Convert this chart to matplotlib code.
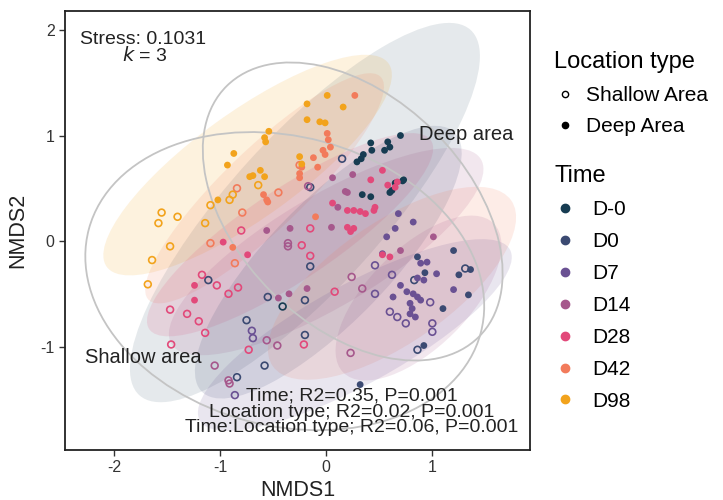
import matplotlib
matplotlib.use("Agg")
import matplotlib.pyplot as plt
from matplotlib.patches import Ellipse
from matplotlib.lines import Line2D

plt.rcParams['font.family'] = ['Liberation Sans', 'DejaVu Sans']
plt.rcParams['axes.unicode_minus'] = False

# Time groups and colours
times = ['D-0', 'D0', 'D7', 'D14', 'D28', 'D42', 'D98']
colors = ['#173c52', '#3b4a72', '#6a5193', '#a6588c', '#e2497a', '#f27b5b', '#f2a31c']

# NMDS scores, per time group (deep = filled, shallow = open)
deep = {
    'D-0': [(0.70, 1.00), (0.58, 0.94), (0.55, 0.86), (0.60, 0.89), (0.42, 0.93), (0.43, 0.86),
            (0.35, 0.82), (0.29, 0.75), (0.33, 0.78), (0.73, 0.58), (0.65, 0.55), (0.62, 0.48),
            (0.34, 0.44), (0.42, 0.42), (0.72, 0.57), (0.60, 0.46)],
    'D0': [(0.92, -0.99), (0.32, -1.36), (1.20, -0.09), (1.25, -0.32), (1.36, -0.27),
           (1.34, -0.51), (1.10, -0.64), (0.86, -0.15), (0.93, -0.30)],
    'D7': [(0.68, 0.26), (0.65, 0.12), (0.57, 0.04), (0.82, 0.18), (0.89, -0.21), (0.95, -0.20),
           (1.04, -0.31), (0.86, -0.35), (0.92, -0.37), (0.70, -0.42), (0.76, -0.48),
           (0.82, -0.50), (0.86, -0.53), (0.89, -0.56), (0.79, -0.59), (0.81, -0.64),
           (0.79, -0.69), (0.84, -0.72), (1.20, -0.46), (0.63, -0.53), (0.53, -0.12)],
    'D14': [(0.06, 0.60), (0.25, 0.63), (0.20, 0.46), (0.11, 0.32), (0.05, 0.13), (-0.34, 0.12),
            (-0.56, 0.10), (-0.18, -0.45), (-0.35, -0.50), (-0.45, -0.54), (1.01, 0.04),
            (0.70, -0.09), (0.18, 0.47)],
    'D28': [(0.20, 0.29), (0.26, 0.29), (0.32, 0.28), (0.37, 0.26), (0.45, 0.29), (0.46, 0.32),
            (0.26, 0.12), (0.23, 0.09), (0.20, 0.13), (0.53, 0.67), (0.42, 0.58), (0.58, 0.53),
            (0.67, 0.56), (0.65, 0.51), (0.06, 0.36), (0.53, -0.13), (0.60, -0.15),
            (-0.74, -0.13), (-1.24, -0.42), (-1.24, -0.56), (-0.97, -0.01)],
    'D42': [(0.27, 1.38), (0.01, 1.02), (0.02, 0.96), (0.04, 0.89), (-0.03, 0.86), (-0.01, 0.82),
            (-0.12, 0.79), (-0.23, 0.70), (-0.08, 0.70), (-0.25, 0.64), (-0.59, 0.44),
            (-0.56, 0.39), (-0.55, 0.37), (-0.25, 0.60), (-0.10, 0.23), (-0.88, -0.06)],
    'D98': [(0.01, 1.38), (-0.18, 1.30), (-0.18, 1.15), (-0.06, 1.13), (-0.01, 1.12),
            (0.16, 1.27), (-0.54, 1.04), (-0.58, 0.98), (-0.57, 0.94), (-0.87, 0.83),
            (-0.93, 0.72), (-0.25, 0.80), (-0.23, 0.73), (-0.72, 0.61), (-0.69, 0.62),
            (-0.62, 0.67), (-0.58, 0.61), (-1.02, 0.39)],
}
shallow = {
    'D-0': [(-0.41, -0.62)],
    'D0': [(-0.15, 0.51), (0.15, 0.78), (-1.11, -0.37), (-0.75, -0.75), (-0.55, -0.53),
           (-0.20, -0.56), (-0.20, -0.89), (-0.15, -0.24), (-0.58, -1.18), (-0.84, -1.29),
           (0.86, -1.03), (1.31, -0.26), (0.83, -0.37)],
    'D7': [(-0.86, -1.46), (-0.70, -0.85), (-0.69, -0.92), (0.62, -0.32), (0.46, -0.23),
           (0.46, -0.50), (0.60, -0.67), (0.67, -0.72), (0.75, -0.78), (0.98, -0.58),
           (1.00, -0.78), (1.00, -0.86)],
    'D14': [(-0.36, -0.02), (-0.36, -0.05), (-0.46, -0.99), (-0.56, -0.94), (-1.05, -1.18),
            (-0.91, -1.35), (-0.92, -1.32), (0.23, -1.06), (0.24, -0.34), (0.34, -0.45),
            (-0.17, 0.52)],
    'D28': [(-1.46, -0.98), (-1.47, -0.65), (-1.31, -0.69), (-1.20, -0.76), (-1.14, -0.87),
            (-1.17, -0.32), (-0.92, -0.50), (-0.83, -0.44), (-0.73, -1.03), (-0.21, -0.98),
            (0.08, -0.48), (-0.15, 0.12), (-0.15, -0.14), (-0.23, -0.04), (-0.80, 0.10),
            (-1.03, -0.42)],
    'D42': [(-0.79, 0.27), (-0.84, 0.50), (-0.45, 0.46), (-1.09, -0.02), (-0.86, -0.21),
            (-0.25, 0.72)],
    'D98': [(-1.55, 0.27), (-1.58, 0.17), (-1.40, 0.23), (-1.47, -0.05), (-1.64, -0.18),
            (-1.68, -0.41), (-1.14, 0.17), (-1.09, 0.34), (-0.64, 0.53), (-0.88, 0.44),
            (-0.91, 0.39)],
}

# group ellipses (time): centre, semi axes, angle
ell_time = ['D-0', 'D98', 'D42', 'D28', 'D14', 'D0', 'D42', 'D14', 'D7']
ell_x = [-0.20, -0.74, -0.58, -0.34, 0.00, 0.02, 0.62, 0.87, 0.27]
ell_y = [0.27, 0.72, 0.50, 0.06, -0.10, -0.20, -0.40, -0.54, -0.89]
ell_a = [2.33, 1.64, 1.52, 1.60, 1.70, 1.71, 1.37, 1.00, 1.67]
ell_b = [0.72, 0.50, 0.38, 0.43, 0.52, 0.57, 0.57, 0.47, 0.47]
ell_ang = [48, 36, 44, 34, 31, 46, 35, 45, 29]

# location ellipses (grey outlines)
loc_x = [-0.39, 0.25]
loc_y = [-0.38, 0.28]
loc_a = [1.91, 1.68]
loc_b = [1.37, 1.08]
loc_ang = [-15, -45]

fig = plt.figure(figsize=(7.23, 5.0), dpi=100)
ax = fig.add_axes([65/723, 50/500, 465/723, 439/500])

for t, x, y, a, b, ang in zip(ell_time, ell_x, ell_y, ell_a, ell_b, ell_ang):
    c = colors[times.index(t)]
    al = 0.11 if t == 'D-0' else 0.14
    ax.add_patch(Ellipse((x, y), 2*a, 2*b, angle=ang, facecolor=c, edgecolor='none',
                         alpha=al, zorder=1))

for x, y, a, b, ang in zip(loc_x, loc_y, loc_a, loc_b, loc_ang):
    ax.add_patch(Ellipse((x, y), 2*a, 2*b, angle=ang, facecolor='none',
                         edgecolor='#c4c4c4', lw=1.3, zorder=2))

for t, c in zip(times, colors):
    sx = [p[0] for p in shallow[t]]
    sy = [p[1] for p in shallow[t]]
    ax.scatter(sx, sy, s=24, facecolors='none', edgecolors=c, linewidths=1.2, zorder=3)
    dx = [p[0] for p in deep[t]]
    dy = [p[1] for p in deep[t]]
    ax.scatter(dx, dy, s=24, color=c, edgecolors='none', zorder=3)

ax.set_xlim(-2.46, 1.92)
ax.set_ylim(-1.98, 2.18)
ax.set_xticks([-2, -1, 0, 1])
ax.set_yticks([-1, 0, 1, 2])
ax.tick_params(direction='out', length=4, width=1, colors='#333333', labelsize=11.5)
for sp in ax.spines.values():
    sp.set_linewidth(1.3)
    sp.set_color('#222222')
ax.set_xlabel('NMDS1', fontsize=15.5, color='#222222', labelpad=3)
ax.set_ylabel('NMDS2', fontsize=15.5, color='#222222', labelpad=9)

tc = '#222222'
ax.text(-2.32, 1.91, 'Stress: 0.1031', fontsize=14, color=tc, va='center', ha='left', zorder=5)
ax.text(-1.71, 1.755, r'$k$ = 3', fontsize=14, color=tc, va='center', ha='center', zorder=5)
ax.text(0.87, 1.01, 'Deep area', fontsize=14.5, color=tc, va='center', ha='left', zorder=5)
ax.text(-2.27, -1.10, 'Shallow area', fontsize=14.5, color=tc, va='center', ha='left', zorder=5)
ax.text(0.24, -1.47, 'Time; R2=0.35, P=0.001', fontsize=14, color=tc, ha='center', va='center', zorder=5)
ax.text(0.24, -1.62, 'Location type; R2=0.02, P=0.001', fontsize=14, color=tc, ha='center', va='center', zorder=5)
ax.text(0.24, -1.77, 'Time:Location type; R2=0.06, P=0.001', fontsize=14, color=tc, ha='center', va='center', zorder=5)

# legends
loc_handles = [Line2D([], [], marker='o', ls='none', markersize=4.5, markerfacecolor='none',
                      markeredgecolor='black', markeredgewidth=1.0),
               Line2D([], [], marker='o', ls='none', markersize=4.5, color='black')]
leg1 = fig.legend(loc_handles, ['Shallow Area', 'Deep Area'], title='Location type',
                  loc='upper left', bbox_to_anchor=(546/723, 1 - 43/500), frameon=False,
                  fontsize=15, title_fontsize=17, alignment='left', handlelength=1.0,
                  handletextpad=0.5, labelspacing=0.6, borderaxespad=0)
time_handles = [Line2D([], [], marker='o', ls='none', markersize=6, color=c) for c in colors]
leg2 = fig.legend(time_handles, times, title='Time', loc='upper left',
                  bbox_to_anchor=(546/723, 1 - 157/500), frameon=False,
                  fontsize=15, title_fontsize=17, alignment='left', handlelength=1.0,
                  handletextpad=0.8, labelspacing=0.62, borderaxespad=0)

fig.savefig('out.png', dpi=100)
